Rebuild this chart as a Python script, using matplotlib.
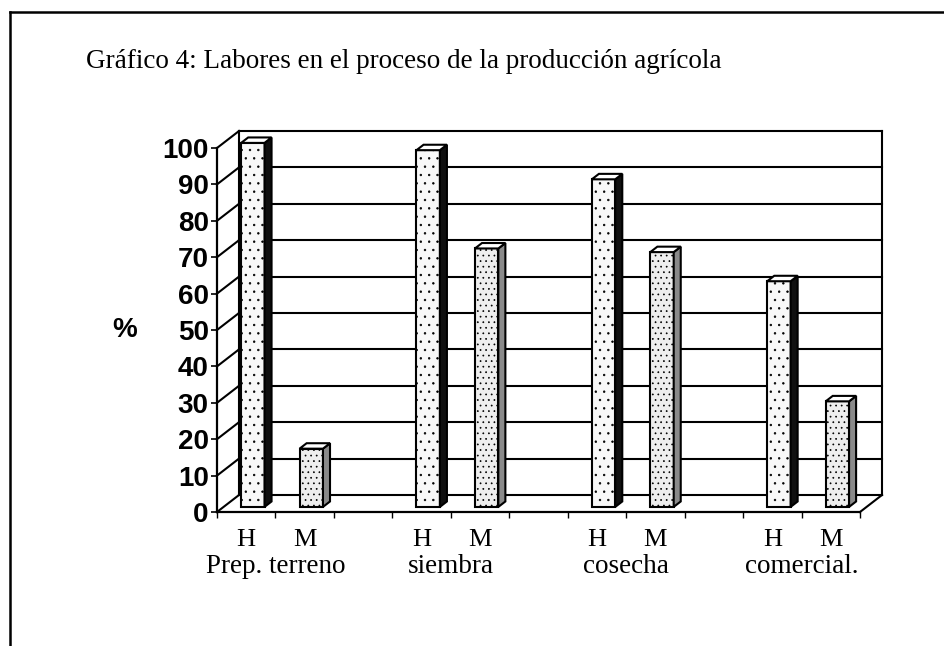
import matplotlib
matplotlib.use("Agg")
import matplotlib.pyplot as plt
from matplotlib.patches import Polygon
from matplotlib.transforms import ScaledTranslation, IdentityTransform
from matplotlib.lines import Line2D
import numpy as np

# ---- data ----
groups = ["Prep. terreno", "siembra", "cosecha", "comercial."]
series = ["H", "M"]
hombres = [100, 98, 90, 62]
mujeres = [16, 71, 70, 29]
y_ticks = [0, 10, 20, 30, 40, 50, 60, 70, 80, 90, 100]
title = "Gráfico 4: Labores en el proceso de la producción agrícola"

DPI = 100
fig = plt.figure(figsize=(9.45, 6.46), dpi=DPI)
fig.patch.set_facecolor("white")

ax = fig.add_axes([217 / 945, 1 - 512 / 646, 643 / 945, 364 / 646])
ncat = 3 * len(groups) - 1
ax.set_xlim(-0.5, ncat - 0.5)
ax.set_ylim(0, 100)
ax.set_facecolor("none")
for s in ["top", "right"]:
    ax.spines[s].set_visible(False)
for s in ["left", "bottom"]:
    ax.spines[s].set_linewidth(1.6)
    ax.spines[s].set_color("black")

# depth offsets (inches)
DX, DY = 0.22, 0.17


def off(f):
    return ax.transData + ScaledTranslation(DX * f, DY * f, fig.dpi_scale_trans)


def P(x, y, f):
    px, py = ax.transData.transform((x, y))
    return (px + DX * f * DPI, py + DY * f * DPI)


lw = 1.5
xl, xr = -0.5, ncat - 0.5
# back wall gridlines
for v in y_ticks:
    ax.plot([xl, xr], [v, v], color="black", lw=lw, transform=off(1), clip_on=False, zorder=1)
    # left wall diagonals
    a, b = P(xl, v, 0), P(xl, v, 1)
    fig.add_artist(Line2D([a[0], b[0]], [a[1], b[1]], color="black", lw=lw,
                          transform=IdentityTransform(), zorder=1))
# back wall edges
ax.plot([xl, xl], [0, 100], color="black", lw=lw, transform=off(1), clip_on=False, zorder=1)
ax.plot([xr, xr], [0, 100], color="black", lw=lw, transform=off(1), clip_on=False, zorder=1)
a, b = P(xr, 0, 0), P(xr, 0, 1)
fig.add_artist(Line2D([a[0], b[0]], [a[1], b[1]], color="black", lw=lw,
                      transform=IdentityTransform(), zorder=1))

# bars
xs_h = [3 * i for i in range(len(groups))]
xs_m = [3 * i + 1 for i in range(len(groups))]
bw = 0.4
f0, f1 = 0.3, 0.62
plt.rcParams["hatch.color"] = "#b0b0b0"
plt.rcParams["hatch.linewidth"] = 0.5
for xs, vals, face, side, hatch in [
    (xs_h, hombres, "#f8f8f8", "#101010", ".."),
    (xs_m, mujeres, "#eeeeee", "#8a8a8a", "..."),
]:
    ax.bar(xs, vals, width=bw, color=face, edgecolor="black", linewidth=lw,
           hatch=hatch, transform=off(f0), clip_on=False, zorder=3)
    for x, v in zip(xs, vals):
        x0, x1 = x - bw / 2, x + bw / 2
        top = [P(x0, v, f0), P(x1, v, f0), P(x1, v, f1), P(x0, v, f1)]
        sidep = [P(x1, 0, f0), P(x1, v, f0), P(x1, v, f1), P(x1, 0, f1)]
        fig.add_artist(Polygon(sidep, closed=True, facecolor=side, edgecolor="black",
                               lw=lw, transform=IdentityTransform(), zorder=2))
        fig.add_artist(Polygon(top, closed=True, facecolor="white", edgecolor="black",
                               lw=lw, transform=IdentityTransform(), zorder=2))

# axes ticks
ax.set_yticks(y_ticks)
ax.set_yticklabels([str(v) for v in y_ticks], fontfamily="Liberation Sans",
                   fontweight="bold", fontsize=20)
ax.tick_params(axis="y", length=4, width=1.2, pad=2)

xt = []
xlab = []
for h, m in zip(xs_h, xs_m):
    xt += [h, m]
    xlab += series
ax.set_xticks(xt)
ax.set_xticklabels(xlab, fontfamily="Liberation Serif", fontsize=19)
ax.tick_params(axis="x", which="major", length=0, pad=12)
ax.set_xticks(np.arange(xl, xr + 0.01, 1.0), minor=True)
ax.tick_params(axis="x", which="minor", length=4, width=1.0)

for g, h, m in zip(groups, xs_h, xs_m):
    ax.text((h + m) / 2, -0.150, g, transform=ax.get_xaxis_transform(),
            ha="center", va="center", fontfamily="Liberation Serif", fontsize=19.5)

fig.text(125 / 945, 1 - 330 / 646, "%", ha="center", va="center",
         fontfamily="Liberation Sans", fontweight="bold", fontsize=20)

fig.text(404 / 945, 1 - 62 / 646, title, ha="center", va="center",
         fontfamily="Liberation Serif", fontsize=19.5)

# outer frame (left and top edges)
fig.add_artist(Line2D([10 / 945, 10 / 945], [0, 1 - 12 / 646], color="black", lw=1.8,
                      transform=fig.transFigure))
fig.add_artist(Line2D([10 / 945, 1], [1 - 12 / 646, 1 - 12 / 646], color="black", lw=1.8,
                      transform=fig.transFigure))

fig.savefig("out.png", dpi=DPI)
